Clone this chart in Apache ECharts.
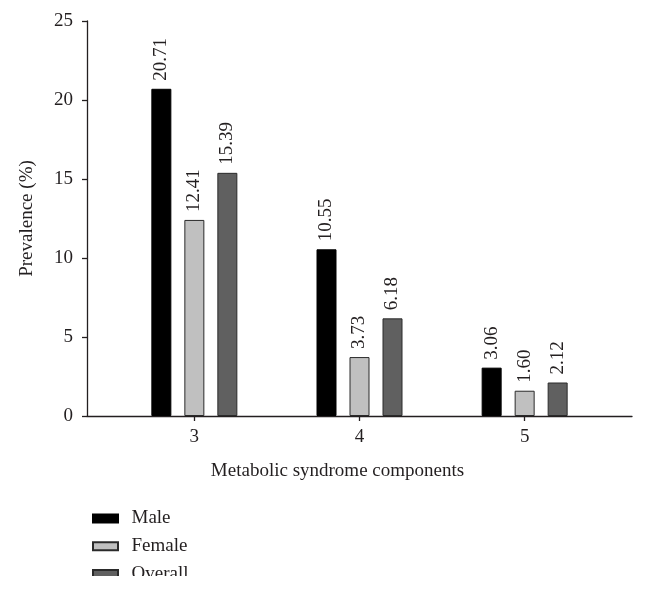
<!DOCTYPE html>
<html>
<head>
<meta charset="utf-8">
<script src="https://cdn.jsdelivr.net/npm/echarts@6/dist/echarts.min.js"></script>
<style>html,body{margin:0;padding:0;background:#fff;}#chart{width:646px;height:589px;}</style>
</head>
<body>
<div id="chart"></div>
<script>
var categories = [3, 4, 5];
var male = [20.71, 10.55, 3.06];
var female = [12.41, 3.73, 1.60];
var overall = [15.39, 6.18, 2.12];
var yTicks = [0, 5, 10, 15, 20, 25];

var FONT = 'Liberation Serif';
var TXT = '#231f20';

function pairs(vals) {
  return categories.map(function (c, i) { return [c, vals[i]]; });
}

var labelOpt = {
  show: true,
  position: 'top',
  rotate: 90,
  align: 'left',
  verticalAlign: 'middle',
  distance: 8,
  fontFamily: FONT,
  fontSize: 19,
  color: TXT,
  formatter: function (p) { return p.value[1].toFixed(2); }
};

function mk(name, vals, color, border) {
  return {
    name: name,
    type: 'bar',
    data: pairs(vals),
    barWidth: 20,
    barGap: '65%',
    itemStyle: { color: color, borderColor: border, borderWidth: 1 },
    label: labelOpt,
    emphasis: { disabled: true }
  };
}

var chart = echarts.init(document.getElementById('chart'));
chart.setOption({
  animation: false,
  backgroundColor: '#fff',
  grid: { left: 87, right: 14, top: 21, bottom: 173, containLabel: false },
  legend: {
    orient: 'vertical',
    left: 87,
    top: 504,
    icon: 'rect',
    itemWidth: 25,
    itemHeight: 8,
    itemGap: 8.7,
    textStyle: { fontFamily: FONT, fontSize: 19, color: TXT, lineHeight: 19, padding: [0, 0, 0, 8.5] },
    data: ['Male', 'Female', 'Overall'],
    z: 1
  },
  graphic: [{
    type: 'rect',
    left: 0,
    top: 576,
    z: 100,
    shape: { width: 646, height: 13 },
    style: { fill: '#ffffff' },
    silent: true
  }],
  xAxis: {
    type: 'value',
    min: 2.35,
    max: 5.65,
    name: 'Metabolic syndrome components',
    nameLocation: 'middle',
    nameGap: 46,
    nameTextStyle: { fontFamily: FONT, fontSize: 19, color: TXT, padding: [0, 44, 0, 0] },
    splitLine: { show: false },
    axisLine: { show: true, lineStyle: { color: '#231f20', width: 1.3 } },
    axisTick: { show: true, length: 5, customValues: categories, lineStyle: { color: '#231f20', width: 1.3 } },
    axisLabel: { customValues: categories, margin: 12, fontFamily: FONT, fontSize: 19, color: TXT }
  },
  yAxis: {
    type: 'value',
    min: 0,
    max: 25,
    interval: 5,
    name: 'Prevalence (%)',
    nameLocation: 'middle',
    nameGap: 50,
    nameTextStyle: { fontFamily: FONT, fontSize: 19, color: TXT },
    splitLine: { show: false },
    axisLine: { show: true, lineStyle: { color: '#231f20', width: 1.3 } },
    axisTick: { show: true, length: 5, lineStyle: { color: '#231f20', width: 1.3 } },
    axisLabel: { margin: 14, fontFamily: FONT, fontSize: 19, color: TXT,
      formatter: function (v) { return yTicks.indexOf(v) >= 0 ? String(v) : ''; } }
  },
  series: [
    mk('Male', male, '#000000', '#000000'),
    mk('Female', female, '#c0c0c0', '#2a2a2a'),
    mk('Overall', overall, '#606060', '#2a2a2a')
  ]
});
</script>
</body>
</html>
